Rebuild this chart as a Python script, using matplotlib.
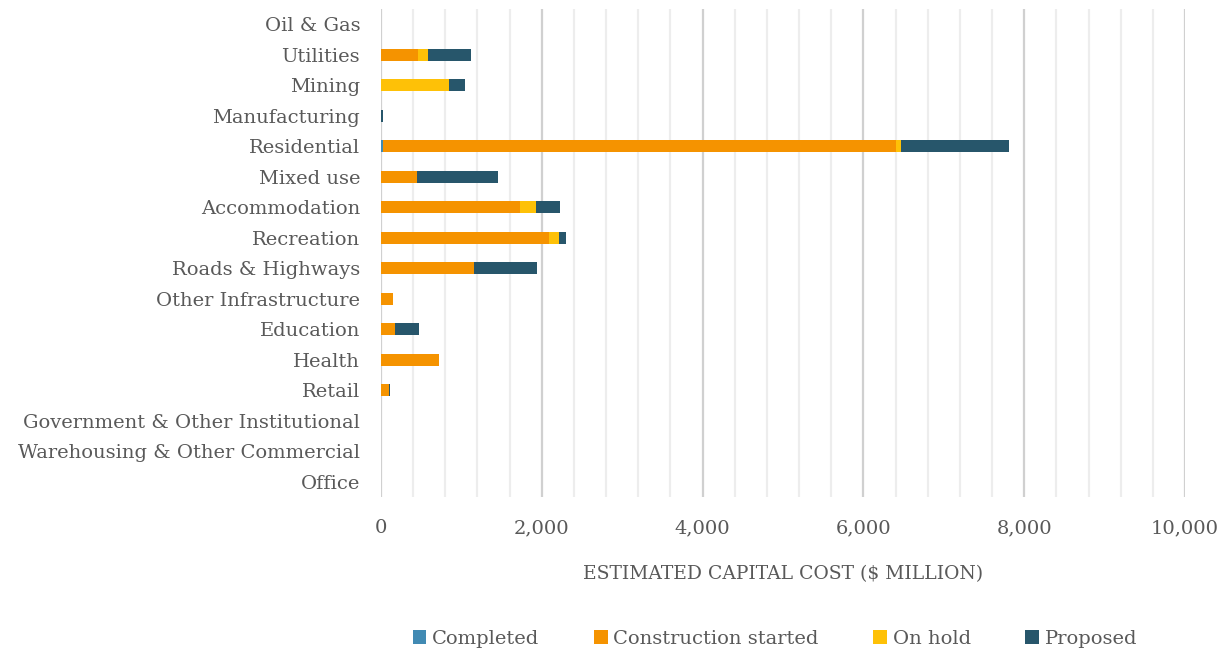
import matplotlib.pyplot as plt
import numpy as np

plt.rcParams['font.family'] = ['DejaVu Serif']

# categories, top to bottom as shown
categories = ["Oil & Gas", "Utilities", "Mining", "Manufacturing", "Residential",
              "Mixed use", "Accommodation", "Recreation", "Roads & Highways",
              "Other Infrastructure", "Education", "Health", "Retail",
              "Government & Other Institutional", "Warehousing & Other Commercial",
              "Office"]

completed = [0, 0, 0, 0, 20, 0, 0, 0, 0, 0, 0, 0, 0, 0, 0, 0]
construction = [0, 460, 0, 0, 6380, 452, 1728, 2084, 1152, 149, 174, 725, 103, 0, 0, 0]
on_hold = [0, 128, 841, 0, 65, 0, 199, 125, 0, 0, 0, 0, 0, 0, 0, 0]
proposed = [0, 527, 200, 30, 1345, 998, 294, 91, 787, 0, 298, 0, 15, 0, 0, 0]

series = ["Completed", "Construction started", "On hold", "Proposed"]
colors = ["#418AB3", "#F59300", "#FEC107", "#27566B"]

fig = plt.figure(figsize=(12.25, 6.52), dpi=100)
ax = fig.add_axes([381 / 1225, 155 / 652, 804 / 1225, 488 / 652])

y = np.arange(len(categories))
left = np.zeros(len(categories))
for name, vals, c in zip(series, [completed, construction, on_hold, proposed], colors):
    ax.barh(y, vals, left=left, height=0.4, color=c, label=name, zorder=3)
    left += np.array(vals)

ax.set_ylim(len(categories) - 0.5, -0.5)
ax.set_xlim(0, 10000)
ax.set_yticks(y)
ax.set_yticklabels(categories)
ax.set_xticks(np.arange(0, 10001, 2000))
ax.set_xticks(np.arange(0, 10001, 400), minor=True)
ax.set_xticklabels(["{:,}".format(v) for v in range(0, 10001, 2000)])
ax.grid(axis='x', which='major', color='#D0D0D0', linewidth=1.6, zorder=0)
ax.grid(axis='x', which='minor', color='#EDEDED', linewidth=1.6, zorder=0)
for s in ax.spines.values():
    s.set_visible(False)
ax.tick_params(axis='both', which='both', length=0, labelsize=14, colors='#595959')
ax.tick_params(axis='y', pad=15)
ax.tick_params(axis='x', pad=16)
ax.set_xlabel("ESTIMATED CAPITAL COST ($ MILLION)", fontsize=13.5, color='#595959', labelpad=20)

ax.legend(loc='center', bbox_to_anchor=(0.49, -0.29), ncol=4, frameon=False,
          fontsize=14, labelcolor='#595959', handlelength=0.7, handleheight=0.7,
          handletextpad=0.3, columnspacing=2.8)

fig.savefig("out.png", dpi=100)
